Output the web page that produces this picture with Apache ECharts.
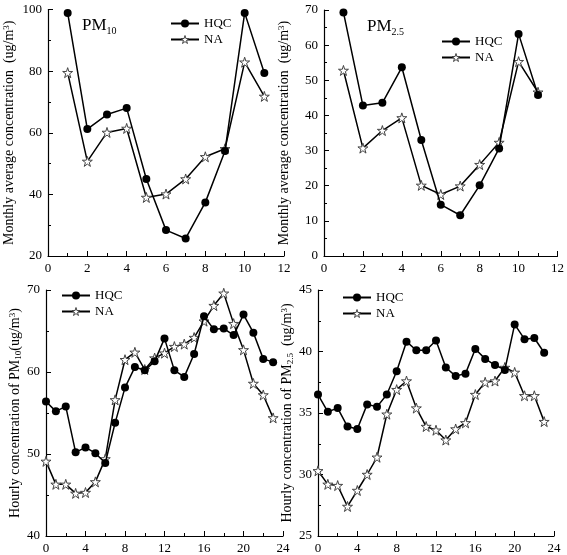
<!DOCTYPE html>
<html><head><meta charset="utf-8">
<script src="https://cdn.jsdelivr.net/npm/echarts@6/dist/echarts.min.js"></script>
<style>html,body{margin:0;padding:0;background:#fff}#c{width:567px;height:555px}</style>
</head><body><div id="c"></div>
<script>
const months = [1,2,3,4,5,6,7,8,9,10,11];
const pm10HQC = [98.9,61.2,65.9,68.0,45.0,28.4,25.7,37.4,54.1,98.9,79.4];
const pm10NA  = [79.5,50.7,60.1,61.4,39.0,40.1,45.0,52.2,54.8,82.9,71.8];
const pm25HQC = [69.3,42.8,43.6,53.7,33.0,14.6,11.6,20.1,30.6,63.2,45.8];
const pm25NA  = [52.8,30.7,35.7,39.3,20.1,17.5,19.9,26.0,32.3,55.3,46.6];
const hours = [0,1,2,3,4,5,6,7,8,9,10,11,12,13,14,15,16,17,18,19,20,21,22,23];
const hPm10HQC = [56.4,55.2,55.8,50.2,50.8,50.1,48.9,53.8,58.1,60.6,60.2,61.3,64.1,60.2,59.4,62.2,66.8,65.2,65.3,64.5,67.0,64.8,61.6,61.2];
const hPm10NA  = [49.1,46.3,46.3,45.2,45.3,46.6,49.4,56.6,61.5,62.4,60.3,61.7,62.3,63.1,63.4,64.2,66.2,68.1,69.6,65.9,62.7,58.6,57.2,54.4];
const hPm25HQC = [36.5,35.1,35.4,33.9,33.7,35.7,35.5,36.5,38.4,40.8,40.1,40.1,40.9,38.7,38.0,38.2,40.2,39.4,38.9,38.5,42.2,41.0,41.1,39.9];
const hPm25NA  = [30.3,29.2,29.1,27.4,28.7,30.0,31.4,34.9,36.9,37.6,35.4,33.9,33.6,32.8,33.7,34.2,36.5,37.5,37.6,38.7,38.3,36.4,36.4,34.3];
const seriesNames = ['HQC','NA'];

const FONT = '"Liberation Serif","DejaVu Serif",serif';
const STAR = 'path://M50,0 L61.2,34.5 L97.6,34.5 L68.2,55.9 L79.4,90.5 L50,69.1 L20.6,90.5 L31.8,55.9 L2.4,34.5 L38.8,34.5 Z';
const chart = echarts.init(document.getElementById('c'));

function pairs(xs, ys){ return xs.map((x,i)=>[x, ys[i]]); }

const grids = [
  {left:48, top:9.5, width:236, height:246.5},
  {left:324, top:10, width:239, height:246},
  {left:46, top:290, width:237, height:246},
  {left:318, top:290, width:236, height:246}
];
const xCfg = [[0,12,2],[0,12,2],[0,24,4],[0,24,4]];
const yCfg = [[20,100,20],[0,70,10],[40,70,10],[25,45,5]];
const yNames = [
  'Monthly average concentration  (ug/m{sup|3})',
  'Monthly average concentration  (ug/m{sup|3})',
  'Hourly concentration of PM{sub|10}(ug/m{sup|3})',
  'Hourly concentration of PM{sub|2.5}  (ug/m{sup|3})'
];
const yGaps = [31, 32, 20, 16];

const axisCommon = {
  axisLine:{show:true, lineStyle:{color:'#000', width:1.2}},
  axisTick:{show:true, inside:true, length:5, lineStyle:{color:'#000'}},
  minorTick:{show:true, splitNumber:2, length:3, lineStyle:{color:'#000'}},
  splitLine:{show:false}
};

const xAxes = xCfg.map((c,i)=>Object.assign({}, axisCommon, {
  type:'value', gridIndex:i, min:c[0], max:c[1], interval:c[2],
  axisLabel:{color:'#000', fontFamily:FONT, fontSize:13, margin:6}
}));
const yAxes = yCfg.map((c,i)=>Object.assign({}, axisCommon, {
  type:'value', gridIndex:i, min:c[0], max:c[1], interval:c[2],
  axisLabel:{color:'#000', fontFamily:FONT, fontSize:13, margin:6},
  name: yNames[i], nameLocation:'middle', nameGap:yGaps[i], nameRotate:90,
  nameTextStyle:{color:'#000', fontFamily:FONT, fontSize:14,
    rich:{sup:{fontSize:9, fontFamily:FONT, color:'#000', verticalAlign:'top', padding:[0,0,6,0]},
          sub:{fontSize:9, fontFamily:FONT, color:'#000', verticalAlign:'bottom', padding:[6,0,0,0]}}}
}));

const data = [
  [pairs(months,pm10HQC), pairs(months,pm10NA)],
  [pairs(months,pm25HQC), pairs(months,pm25NA)],
  [pairs(hours,hPm10HQC), pairs(hours,hPm10NA)],
  [pairs(hours,hPm25HQC), pairs(hours,hPm25NA)]
];
const series = [];
data.forEach((d,i)=>{
  series.push({name:seriesNames[0], type:'line', xAxisIndex:i, yAxisIndex:i, data:d[0],
    symbol:'circle', symbolSize:8, itemStyle:{color:'#000'}, lineStyle:{color:'#000', width:1.5}, z:3});
  series.push({name:seriesNames[1], type:'line', xAxisIndex:i, yAxisIndex:i, data:d[1],
    symbol:STAR, symbolSize:10, itemStyle:{color:'#fff', borderColor:'#444', borderWidth:1},
    lineStyle:{color:'#000', width:1.5}, z:2});
});

const legPos = [[170,17],[441,35],[61,289],[342,291]];
const legends = legPos.map(p=>({
  data:[
    {name:seriesNames[0]},
    {name:seriesNames[1], itemStyle:{color:'#fff', borderColor:'#444', borderWidth:1}}
  ],
  orient:'vertical', left:p[0], top:p[1], itemWidth:28, itemHeight:10, itemGap:3,
  textStyle:{color:'#000', fontFamily:FONT, fontSize:13}, selectedMode:false, padding:0
}));

const titles = [
  {text:'PM{s|10}', left:82, top:16},
  {text:'PM{s|2.5}', left:367, top:17}
].map(t=>({text:t.text, left:t.left, top:t.top, padding:0,
  textStyle:{color:'#000', fontFamily:FONT, fontSize:17, fontWeight:'normal',
    rich:{s:{fontSize:10, fontFamily:FONT, color:'#000', verticalAlign:'bottom', padding:[10,0,0,0]}}}}));

chart.setOption({
  animation:false,
  backgroundColor:'#fff',
  title:titles,
  legend:legends,
  grid:grids.map(g=>Object.assign({containLabel:false}, g)),
  xAxis:xAxes, yAxis:yAxes, series:series
});
</script></body></html>
